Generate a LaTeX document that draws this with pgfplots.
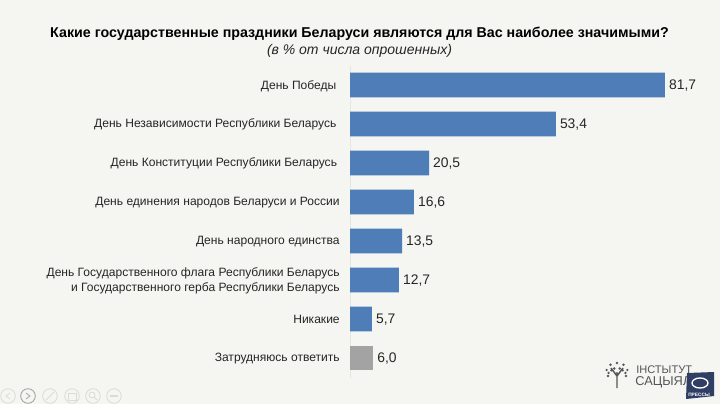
\documentclass[border=0pt]{standalone}
\usepackage{fontspec}
\setmainfont{Liberation Sans}
\usepackage{pgfplots}
\pgfplotsset{compat=1.18}
\definecolor{bg}{HTML}{F5F5F2}
\definecolor{barblue}{HTML}{4F7DB8}
\definecolor{bargray}{HTML}{A3A3A3}
\definecolor{txt}{HTML}{262626}
\definecolor{icon}{HTML}{DADAD8}
\definecolor{logo}{HTML}{55565C}
\definecolor{logob}{HTML}{2F3E63}
\begin{document}
\begin{tikzpicture}[x=0.75pt,y=-0.75pt]
\fill[bg] (0,0) rectangle (720,404);
\begin{axis}[
  at={(262.5pt,-283.125pt)}, anchor=south west,
  scale only axis, width=262.5pt, height=234pt,
  xmin=0, xmax=90.8, ymin=-0.5, ymax=7.5,
  y dir=reverse,
  axis line style={draw=none},
  axis x line=none,
  axis y line*=left,
  ytick={0,...,7},
  yticklabels={День Победы\hspace*{2.5pt},День Независимости Республики Беларусь\hspace*{2.5pt},День Конституции Республики Беларусь\hspace*{2pt},День единения народов Беларуси и России,День народного единства,{День Государственного флага Республики Беларусь\\и Государственного герба Республики Беларусь},Никакие,Затрудняюсь ответить},
  yticklabel style={font=\fontsize{9.04pt}{11.4pt}\selectfont, text=txt, align=right, xshift=-4.2pt, yshift=-0.6pt},
  major tick length=0pt,
  clip=false,
  point meta=x,
  nodes near coords,
  nodes near coords style={font=\fontsize{10.4pt}{13pt}\selectfont, text=txt, anchor=west, xshift=-0.4pt, yshift=-0.6pt,
     /pgf/number format/.cd, fixed, fixed zerofill, precision=1, use comma, assume math mode=true},
]
\draw[draw=icon!60!bg] (axis cs:0,-0.5) -- (axis cs:0,7.5);
\addplot[xbar, bar width=18.5pt, bar shift=0pt, fill=barblue, draw=none] coordinates {(81.7,0) (53.4,1) (20.5,2) (16.6,3) (13.5,4) (12.7,5) (5.7,6)};
\addplot[xbar, bar width=18.5pt, bar shift=0pt, fill=bargray, draw=none] coordinates {(6.0,7)};
\end{axis}
\node[font=\bfseries\fontsize{10.68pt}{13pt}\selectfont, text=black, anchor=center] at (359.5,33.5) {Какие государственные праздники Беларуси являются для Вас наиболее значимыми?};
\node[font=\itshape\fontsize{10.5pt}{13pt}\selectfont, text=txt, anchor=center] at (359.5,50.5) {(в \% от числа опрошенных)};
% toolbar
\foreach \cx in {8,28,50,72,93,114}
  \draw[icon, line width=0.6pt] (\cx,396) circle (7.3);
\draw[gray!70, line width=0.6pt] (28,396) circle (7.3);
\draw[icon, line width=0.6pt] (10,393) -- (6,396) -- (10,399);
\draw[gray!70, line width=0.6pt] (26,393) -- (30,396) -- (26,399);
\draw[icon, line width=0.6pt] (46,400) -- (54,392);
\draw[icon, line width=0.6pt] (68,393) rectangle (76,400);
\draw[icon, line width=0.6pt] (92,395) circle (3) (94,397) -- (97,400);
\draw[icon, line width=0.8pt] (110,396) -- (118,396);
% logo
\foreach \a/\r in {0/9,30/12,60/13,90/13,120/13,150/12,180/9,20/9,70/8,110/8,160/9,45/8,135/8}
  \fill[logo] (617,376) ++(\a:-\r) circle (1.3);
\draw[logo, line width=1.1pt] (617,388) -- (617,372) (617,376) -- (611,368) (617,376) -- (623,368);
\node[font=\fontsize{8.3pt}{10pt}\selectfont, text=logo, anchor=west, inner sep=0pt] at (636,370) {ІНСТЫТУТ};
\node[font=\fontsize{9.6pt}{10pt}\selectfont, text=logo, anchor=west, inner sep=0pt] at (635,382) {САЦЫЯЛО};
\fill[logob] (687,373) -- (714,372) -- (714,396) -- (686,399) -- cycle;
\draw[white, line width=1pt] (700,383) ellipse (8 and 5);
\node[font=\bfseries\fontsize{3.6pt}{4pt}\selectfont, text=white, inner sep=0pt] at (699,395) {ПРЕССЫ};
\end{tikzpicture}
\end{document}
